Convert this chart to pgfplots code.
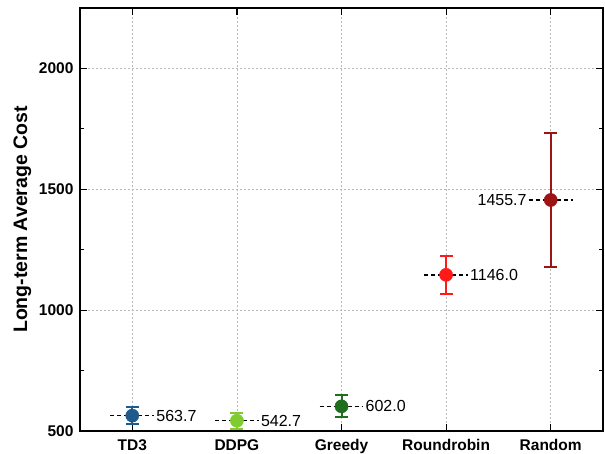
\documentclass[border=0pt]{standalone}
\usepackage{pgfplots}
\pgfplotsset{compat=1.18}
\usepackage{fontspec}
\setmainfont{Liberation Sans}
\definecolor{ctd}{HTML}{1F5A8C}
\definecolor{cdd}{HTML}{7FCC2E}
\definecolor{cgr}{HTML}{1E6E1E}
\definecolor{crr}{HTML}{FF1A1A}
\definecolor{cra}{HTML}{9E1414}
\pgfplotsset{
 errstyle/.style={only marks, mark=*, mark size=6.6pt, color=#1,
  error bars/.cd, y dir=both, y explicit,
  error bar style={line width=2pt, color=#1},
  error mark options={rotate=90, mark size=6.5pt, line width=2pt, color=#1}},
 meanline/.style={black, line width=1.3pt, dash pattern=on 4pt off 3pt},
}
\begin{document}
\begin{tikzpicture}
\begin{axis}[
 scale only axis, width=523pt, height=423pt,
 xmin=-0.5, xmax=4.5, ymin=500, ymax=2250,
 xtick={0,1,2,3,4}, xticklabels={TD3,DDPG,Greedy,Roundrobin,Random},
 ytick={500,1000,1500,2000}, minor ytick={750,1250,1750},
 tick align=inside, major tick length=7pt, minor tick length=4pt,
 every tick/.style={black, line width=1.2pt},
 axis line style={line width=1.4pt},
 grid=major, major grid style={gray!55, line width=0.8pt, dash pattern=on 2pt off 2pt},
 ticklabel style={font=\fontsize{15.5}{18}\selectfont\bfseries},
 /pgf/number format/assume math mode=true,
 /pgf/number format/1000 sep={},
 scaled y ticks=false,
 yticklabel style={xshift=-3pt},
 xticklabel style={yshift=-5pt},
 ylabel={Long-term Average Cost},
 every axis y label/.style={at={(axis description cs:-0.11,0.5)}, rotate=90, anchor=center, font=\fontsize{19.5}{22}\selectfont\bfseries},
 clip=false,
]
\addplot[errstyle=ctd] coordinates {(0,563.7) +- (0,35)};
\addplot[errstyle=cdd] coordinates {(1,542.7) +- (0,33)};
\addplot[errstyle=cgr] coordinates {(2,602.0) +- (0,45)};
\addplot[errstyle=crr] coordinates {(3,1146.0) +- (0,78)};
\addplot[errstyle=cra] coordinates {(4,1455.7) +- (0,278)};
\addplot[meanline] coordinates {(-0.21,563.7) (0.21,563.7)} node[pos=1, anchor=west, font=\fontsize{16}{18}\selectfont, inner sep=1.5pt] {563.7};
\addplot[meanline] coordinates {(0.79,542.7) (1.21,542.7)} node[pos=1, anchor=west, font=\fontsize{16}{18}\selectfont, inner sep=1.5pt] {542.7};
\addplot[meanline] coordinates {(1.79,602.0) (2.21,602.0)} node[pos=1, anchor=west, font=\fontsize{16}{18}\selectfont, inner sep=1.5pt] {602.0};
\addplot[meanline] coordinates {(2.79,1146.0) (3.21,1146.0)} node[pos=1, anchor=west, font=\fontsize{16}{18}\selectfont, inner sep=1.5pt] {1146.0};
\addplot[meanline] coordinates {(3.79,1455.7) (4.21,1455.7)} node[pos=0, anchor=east, font=\fontsize{16}{18}\selectfont, inner sep=1.5pt] {1455.7};
\end{axis}
\pgfresetboundingbox
\path ([shift={(-80pt,-22pt)}]current axis.south west) rectangle ([shift={(2pt,8pt)}]current axis.north east);
\end{tikzpicture}
\end{document}
